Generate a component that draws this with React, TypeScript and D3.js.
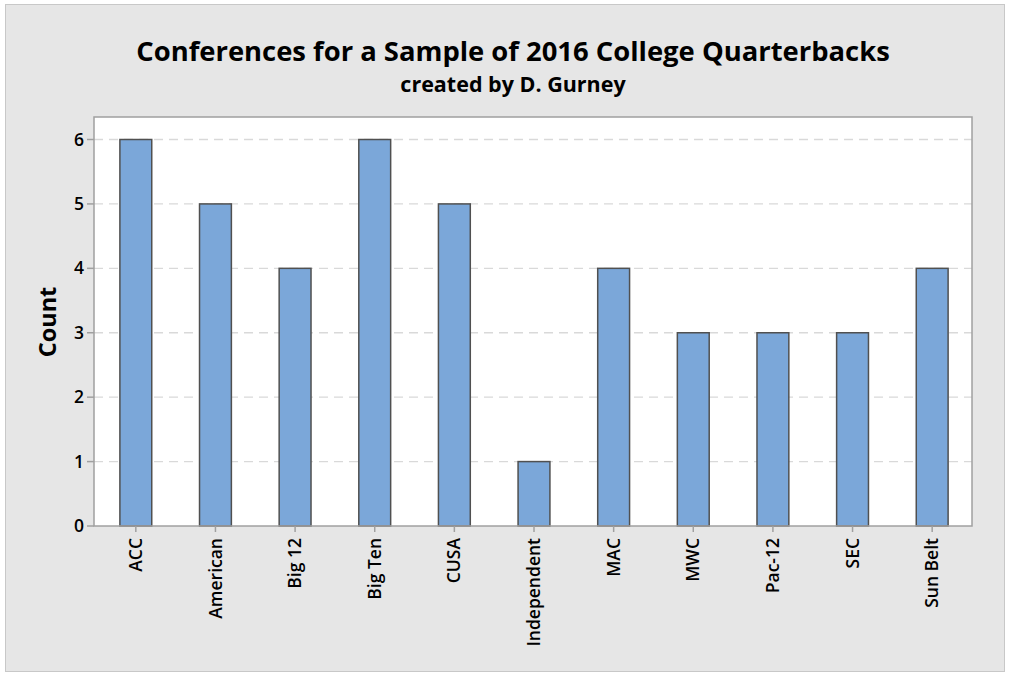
import React from "react";
import * as d3 from "d3";

const categories = ["ACC", "American", "Big 12", "Big Ten", "CUSA", "Independent", "MAC", "MWC", "Pac-12", "SEC", "Sun Belt"];
const counts = [6, 5, 4, 6, 5, 1, 4, 3, 3, 3, 4];
const yTicks = [0, 1, 2, 3, 4, 5, 6];
const title = "Conferences for a Sample of 2016 College Quarterbacks";
const subtitle = "created by D. Gurney";
const yLabel = "Count";

const W = 1010;
const H = 676;
const plot = { left: 94, right: 972, top: 117, bottom: 526 };
const font = "'Open Sans', 'Noto Sans', sans-serif";

export default function App() {
  const x = d3
    .scaleBand<string>()
    .domain(categories)
    .range([96, 972])
    .paddingInner(0.6)
    .paddingOuter(0.3);
  const y = d3.scaleLinear().domain([0, 6]).range([plot.bottom, 139.5]);

  return (
    <svg width={W} height={H} style={{ position: "absolute", left: 0, top: 0 }}>
      <rect x={0} y={0} width={W} height={H} fill="#ffffff" />
      <rect x={5.5} y={4.5} width={999} height={667} fill="#e6e6e6" stroke="#c8c8c8" strokeWidth={1} />
      <text x={513} y={61} textAnchor="middle" fontFamily={font} fontWeight={700} fontSize={27.4} fill="#000">
        {title}
      </text>
      <text x={513} y={92} textAnchor="middle" fontFamily={font} fontWeight={700} fontSize={21.5} fill="#000">
        {subtitle}
      </text>
      <rect
        x={plot.left}
        y={plot.top}
        width={plot.right - plot.left}
        height={plot.bottom - plot.top}
        fill="#ffffff"
      />
      {yTicks.filter((t) => t > 0).map((t) => (
        <line
          key={"g" + t}
          x1={plot.left}
          x2={plot.right}
          y1={y(t)}
          y2={y(t)}
          stroke="#d9d9d9"
          strokeWidth={1.3}
          strokeDasharray="9,6"
        />
      ))}
      {categories.map((c, i) => (
        <rect
          key={c}
          x={x(c)!}
          y={y(counts[i])}
          width={x.bandwidth()}
          height={y(0) - y(counts[i])}
          fill="#7ba7d9"
          stroke="#505050"
          strokeWidth={1.5}
        />
      ))}
      <rect
        x={plot.left}
        y={plot.top}
        width={plot.right - plot.left}
        height={plot.bottom - plot.top}
        fill="none"
        stroke="#a0a0a0"
        strokeWidth={1.5}
      />
      {yTicks.map((t) => (
        <g key={"t" + t}>
          <line x1={plot.left - 7} x2={plot.left} y1={y(t)} y2={y(t)} stroke="#a0a0a0" strokeWidth={1.5} />
          <text
            x={plot.left - 10}
            y={y(t)}
            dy="0.35em"
            textAnchor="end"
            fontFamily={font}
            fontWeight={600}
            fontSize={17.5}
            fill="#000"
          >
            {t}
          </text>
        </g>
      ))}
      {categories.map((c) => {
        const cx = x(c)! + x.bandwidth() / 2;
        return (
          <g key={"x" + c}>
            <line x1={cx} x2={cx} y1={plot.bottom} y2={plot.bottom + 6} stroke="#a0a0a0" strokeWidth={1.5} />
            <text
              transform={`translate(${cx},${plot.bottom + 12}) rotate(-90)`}
              dy="0.35em"
              textAnchor="end"
              fontFamily={font}
              fontWeight={600}
              fontSize={17.5}
              fill="#000"
            >
              {c}
            </text>
          </g>
        );
      })}
      <text
        transform={`translate(48,322) rotate(-90)`}
        dy="0.35em"
        textAnchor="middle"
        fontFamily={font}
        fontWeight={700}
        fontSize={23.5}
        fill="#000"
      >
        {yLabel}
      </text>
    </svg>
  );
}
